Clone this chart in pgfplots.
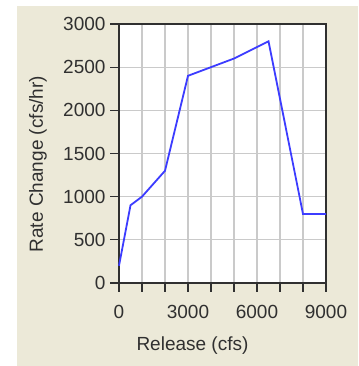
\documentclass[border=0pt]{standalone}
\usepackage{pgfplots}
\pgfplotsset{compat=1.18}
\usepackage{fontspec}
\setmainfont{Liberation Sans}
\definecolor{panel}{HTML}{ECE9D8}
\definecolor{gridc}{HTML}{CACACA}
\definecolor{linec}{HTML}{3C3CFF}
\definecolor{axc}{HTML}{303030}
\begin{document}
\begin{tikzpicture}[x=1pt,y=1pt]
\fill[white] (0,0) rectangle (358,366);
\fill[panel] (17,0) rectangle (358,360);
\begin{axis}[
  at={(119pt,83pt)}, anchor=south west,
  scale only axis, width=207pt, height=259pt,
  xmin=0, xmax=9000, ymin=0, ymax=3000,
  xtick={0,1000,...,9000},
  xticklabels={0,,,3000,,,6000,,,9000},
  ytick={0,500,...,3000},
  yticklabels={0,500,1000,1500,2000,2500,3000},
  scaled ticks=false,
  xtick pos=bottom, ytick pos=left,
  tick align=outside,
  major tick length=9pt,
  every tick/.style={axc, line width=1.3pt},
  axis line style={axc, line width=1.5pt},
  grid=major,
  major grid style={gridc, line width=1.3pt},
  axis background/.style={fill=white},
  tick label style={font=\fontsize{19}{22}\selectfont, text=axc},
  xticklabel style={yshift=-10pt},
  yticklabel style={xshift=-1pt},
  label style={font=\fontsize{19}{22}\selectfont, text=axc},
  xlabel={Release (cfs)},
  ylabel={Rate Change (cfs/hr)},
  xlabel style={at={(rel axis cs:0.355,-0.240)}, anchor=center},
  ylabel style={at={(rel axis cs:-0.391,0.459)}, anchor=center},
  clip=false,
]
\addplot[linec, line width=1.8pt] coordinates {
 (0,200) (500,900) (1000,1000) (2000,1300) (3000,2400)
 (5000,2600) (6500,2800) (8000,800) (9000,800)
};
\end{axis}
\end{tikzpicture}
\end{document}
